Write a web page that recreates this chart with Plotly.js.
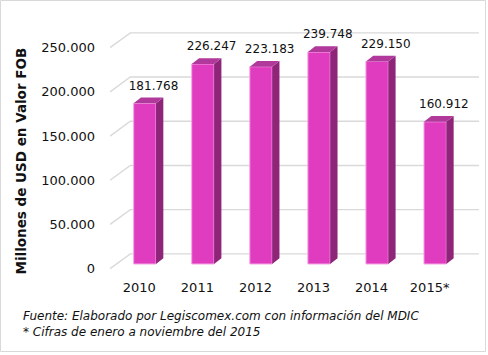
<!DOCTYPE html>
<html>
<head>
<meta charset="utf-8">
<script src="https://cdn.plot.ly/plotly-3.0.1.min.js"></script>
<style>html,body{margin:0;padding:0;background:#fff;}#chart{width:488px;height:355px;}</style>
</head>
<body>
<div id="chart"></div>
<script>
// Data
const years = ["2010", "2011", "2012", "2013", "2014", "2015*"];
const values = [181768, 226247, 223183, 239748, 229150, 160912];
const valueLabels = ["181.768", "226.247", "223.183", "239.748", "229.150", "160.912"];
const yTickVals = [0, 50000, 100000, 150000, 200000, 250000];
const yTickText = ["0", "50.000", "100.000", "150.000", "200.000", "250.000"];

// 3D styling constants (in axis units)
const barW = 0.385, depthX = 0.126, depthY = 6450;
const backDX = 0.35, backDY = 11500, frontDY = -5300;
const xLeft = -0.6, xRight = 5.755;
const xLabelShift = -0.095;

const idx = years.map((_, i) => i);

// side and top faces
const sideX = [], sideY = [], topX = [], topY = [];
idx.forEach(i => {
  const r = i + barW / 2, l = i - barW / 2, v = values[i];
  sideX.push(r, r, r + depthX, r + depthX, r, null);
  sideY.push(0, v, v + depthY, depthY, 0, null);
  topX.push(l, r, r + depthX, l + depthX, l, null);
  topY.push(v, v, v + depthY, v + depthY, v, null);
});

// back-wall gridlines with diagonal to front (behind the bars)
const gridShapes = yTickVals.map(v => ({
  type: "path", xref: "x", yref: "y", layer: "below",
  path: `M ${xLeft},${v + frontDY} L ${xLeft + backDX},${v + backDY} L ${xRight},${v + backDY}`,
  line: {color: "#d9d9d9", width: 1.4}
}));

const traces = [
  {x: idx, y: values, type: "bar", width: barW,
   marker: {color: "#E03CBF", line: {color: "#F5A6E4", width: 1}}, hoverinfo: "skip", showlegend: false},
  {x: sideX, y: sideY, mode: "lines", fill: "toself", fillcolor: "#8F2579", line: {width: 0}, hoverinfo: "skip", showlegend: false},
  {x: topX, y: topY, mode: "lines", fill: "toself", fillcolor: "#B0399B", line: {width: 0}, hoverinfo: "skip", showlegend: false},
  {x: idx.map(i => i + 0.15), y: values.map(v => v + 18900), mode: "text", text: valueLabels,
   textposition: "middle center", textfont: {family: "DejaVu Sans", size: 12, color: "#111"}, hoverinfo: "skip", showlegend: false}
];

const layout = {
  width: 488, height: 355,
  margin: {l: 110, r: 9, t: 25, b: 80},
  paper_bgcolor: "#fff", plot_bgcolor: "rgba(0,0,0,0)",
  font: {family: "DejaVu Sans", color: "#111"},
  xaxis: {range: [xLeft, xRight], tickvals: idx.map(i => i + xLabelShift), ticktext: years, showgrid: false, zeroline: false,
          showline: false, ticks: "", ticklabelstandoff: 3,
          tickfont: {family: "DejaVu Sans", size: 13, color: "#111"}, fixedrange: true},
  yaxis: {range: [-12443, 270357], tickvals: yTickVals.map(v => v + frontDY), ticktext: yTickText, showgrid: false, zeroline: false,
          showline: false, ticks: "", ticklabelstandoff: 14,
          tickfont: {family: "DejaVu Sans", size: 13, color: "#111"}, fixedrange: true},
  annotations: [
    {text: "<b>Millones de USD en Valor FOB</b>", textangle: -90, xref: "paper", yref: "paper",
     x: -0.2439, y: 0.454, showarrow: false, xanchor: "center", yanchor: "middle",
     font: {family: "DejaVu Sans", size: 13.5, color: "#111"}},
    {text: "<i>Fuente: Elaborado por Legiscomex.com con información del MDIC</i>", xref: "paper", yref: "paper",
     x: (20.7 - 110) / 369, y: (275 - 315.7) / 250, xanchor: "left", yanchor: "middle", showarrow: false,
     font: {family: "DejaVu Sans", size: 12, color: "#111"}},
    {text: "<i>* Cifras de enero a noviembre del 2015</i>", xref: "paper", yref: "paper",
     x: (20.7 - 110) / 369, y: (275 - 331.7) / 250, xanchor: "left", yanchor: "middle", showarrow: false,
     font: {family: "DejaVu Sans", size: 12, color: "#111"}}
  ],
  shapes: [
    {type: "rect", xref: "paper", yref: "paper", x0: (0.5 - 110) / 369, x1: (485.5 - 110) / 369,
     y0: (275 - 351.5) / 250, y1: (275 - 0.5) / 250, line: {color: "#d9d9d9", width: 1}, layer: "below"}
  ].concat(gridShapes)
};

Plotly.newPlot("chart", traces, layout, {staticPlot: true, displayModeBar: false});
</script>
</body>
</html>
